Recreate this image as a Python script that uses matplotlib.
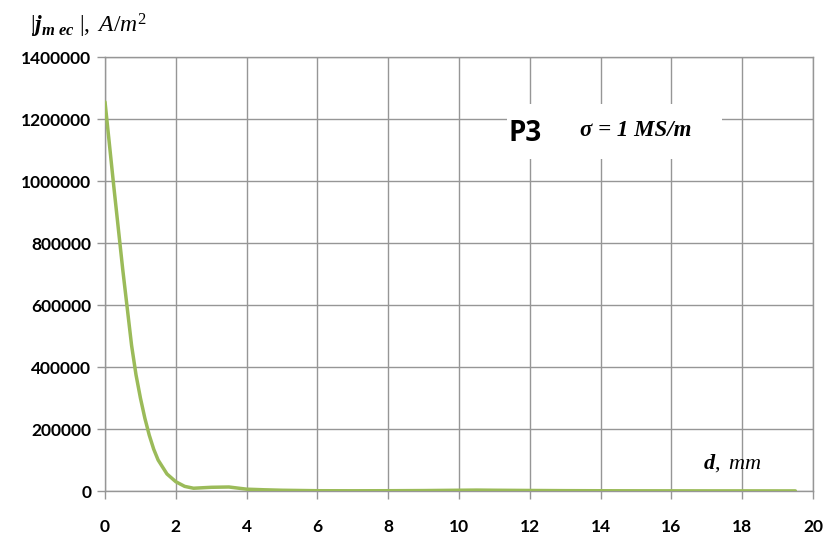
import matplotlib
matplotlib.use("Agg")
import matplotlib.pyplot as plt
from matplotlib.patches import Rectangle

# distance d, mm and eddy current density amplitude |j_m ec|, A/m^2
d_mm = [0, 0.25, 0.5, 0.75, 0.875, 1.0, 1.125, 1.25, 1.375, 1.5, 1.75, 2.0, 2.25,
        2.5, 3.0, 3.5, 4.0, 4.5, 5, 6, 7, 8, 9, 10, 10.5, 11, 12, 13, 14, 15, 16,
        17, 18, 19, 19.5]
j_mec = [1255000, 980000, 715000, 470000, 375000, 300000, 235000, 180000, 135000,
         100000, 55000, 30000, 15000, 9000, 12000, 13000, 6000, 4000, 2500, 1000,
         800, 1000, 1500, 2500, 3000, 2500, 1800, 1200, 900, 700, 600, 500, 500,
         400, 400]

x_ticks = list(range(0, 21, 2))
y_ticks = list(range(0, 1400001, 200000))

plt.rcParams['mathtext.fontset'] = 'custom'
plt.rcParams['mathtext.rm'] = 'Liberation Serif'
plt.rcParams['mathtext.it'] = 'Liberation Serif:italic'
plt.rcParams['mathtext.bf'] = 'Liberation Serif:bold:italic'

grid_c = '#969696'

fig = plt.figure(figsize=(8.25, 5.59), dpi=100)
ax = fig.add_axes([0.1273, 0.1216, 0.8582, 0.7764])

ax.plot(d_mm, j_mec, color='#9BBB59', lw=2.5, solid_capstyle='round',
        solid_joinstyle='round', zorder=3)

ax.set_xlim(0, 20)
ax.set_ylim(0, 1400000)
ax.set_xticks(x_ticks)
ax.set_yticks(y_ticks)
ax.set_xticklabels([str(v) for v in x_ticks])
ax.set_yticklabels([str(v) for v in y_ticks])
ax.grid(True, color=grid_c, lw=1.0)
ax.set_axisbelow(True)
for s in ax.spines.values():
    s.set_color(grid_c)
    s.set_linewidth(1.0)
ax.tick_params(axis='both', which='major', color=grid_c, length=6, width=1.0,
               labelsize=12.5)
ax.tick_params(axis='x', pad=14)
ax.tick_params(axis='y', pad=4)
for lab in ax.get_xticklabels() + ax.get_yticklabels():
    lab.set_fontfamily('Lato')
    lab.set_fontweight('bold')

# white label box with P3 and sigma
ax.add_patch(Rectangle((0.568, 0.765), 0.303, 0.126, transform=ax.transAxes,
                       facecolor='white', edgecolor='none', zorder=2))
ax.text(0.594, 0.824, 'P3', transform=ax.transAxes, fontsize=20, fontweight='bold',
        family='Open Sans', ha='center', va='center', zorder=4)
ax.text(0.75, 0.83, 'σ = 1 MS/m', transform=ax.transAxes, family='Liberation Serif',
        style='italic', fontweight='bold', fontsize=16.5, ha='center', va='center',
        zorder=4)

ax.text(0.886, 0.065, r'$\mathbf{d}\mathit{,\ mm}$', transform=ax.transAxes,
        fontsize=16, ha='center', va='center', zorder=4)

fig.text(0.036, 0.953, r'$\mathit{|}\mathbf{j}_{\mathbf{m\ ec}}\mathit{\ |,\ A/m^2}$',
         fontsize=17, ha='left', va='center')

fig.savefig('out.png', dpi=100)
